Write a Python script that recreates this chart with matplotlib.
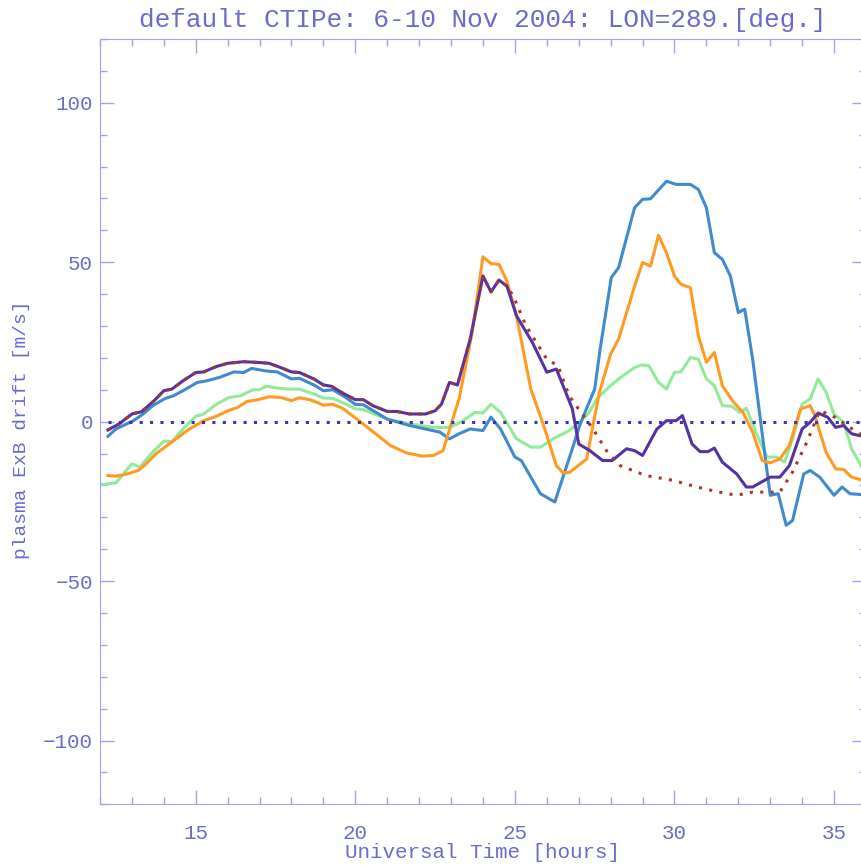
import matplotlib
matplotlib.use("Agg")
import matplotlib.pyplot as plt
from matplotlib.ticker import MultipleLocator

TITLE = "default CTIPe: 6-10 Nov 2004: LON=289.[deg.]"
XLABEL = "Universal Time [hours]"
YLABEL = "plasma ExB drift [m/s]"

# dark purple solid line
purple_t = [12.25, 12.6, 13.0, 13.3, 13.7, 14.0, 14.25, 14.6, 15.0, 15.25, 15.65, 16.0, 16.5,
            16.9, 17.3, 17.65, 18.0, 18.25, 18.7, 19.0, 19.25, 19.65, 20.0, 20.25, 20.55, 21.0,
            21.3, 21.7, 22.2, 22.5, 22.7, 22.95, 23.2, 23.6, 24.0, 24.25, 24.5, 24.75, 25.05,
            25.55, 26.0, 26.3, 26.8, 27.0, 27.35, 27.75, 28.05, 28.5, 28.75, 29.0, 29.45, 29.75,
            30.05, 30.25, 30.55, 30.8, 31.05, 31.25, 31.5, 31.95, 32.25, 32.45, 33.0, 33.3, 33.6,
            34.0, 34.25, 34.5, 34.8, 35.05, 35.3, 35.55, 35.9]
purple_v = [-2.6, -0.7, 2.4, 3.1, 6.6, 9.7, 10.2, 12.8, 15.4, 15.6, 17.3, 18.3, 18.8,
            18.6, 18.3, 17.0, 15.6, 15.4, 13.4, 11.5, 11.1, 8.7, 6.9, 6.9, 5.0, 3.2,
            3.2, 2.4, 2.4, 3.4, 5.5, 12.3, 11.5, 25.9, 45.7, 40.7, 44.4, 42.5, 33.2,
            24.8, 15.5, 16.5, 4.0, -7.0, -9.1, -12.2, -12.2, -8.5, -9.1, -10.6, -2.3, 0.3,
            0.3, 1.9, -7.0, -9.4, -9.4, -8.3, -12.7, -16.4, -20.5, -20.5, -17.4, -17.4, -13.8,
            -2.3, -0.2, 2.7, 1.4, -1.8, -1.2, -3.8, -4.6]

# dark red dotted line
red_t = [12.25, 12.6, 13.0, 13.3, 13.7, 14.0, 14.25, 14.6, 15.0, 15.25, 15.65, 16.0, 16.5,
         16.9, 17.3, 17.65, 18.0, 18.25, 18.7, 19.0, 19.25, 19.65, 20.0, 20.25, 20.55, 21.0,
         21.3, 21.7, 22.2, 22.5, 22.7, 22.95, 23.2, 23.6, 24.0, 24.25, 24.5, 24.75, 24.95,
         25.35, 26.0, 26.35, 26.7, 27.1, 27.45, 27.7, 27.9, 28.3, 29.1, 29.95, 30.7, 31.4,
         31.95, 32.45, 33.3, 33.7, 34.15, 34.55, 34.95, 35.4, 35.9]
red_v = [-2.6, -0.7, 2.4, 3.1, 6.6, 9.7, 10.2, 12.8, 15.4, 15.6, 17.3, 18.3, 18.8,
         18.6, 18.3, 17.0, 15.6, 15.4, 13.4, 11.5, 11.1, 8.7, 6.9, 6.9, 5.0, 3.2,
         3.2, 2.4, 2.4, 3.4, 5.5, 12.3, 11.5, 25.9, 45.7, 40.7, 44.4, 42.5, 39.4,
         30.0, 19.6, 17.5, 8.1, 2.5, -2.3, -6.4, -9.6, -13.8, -16.9, -18.4, -20.5, -22.1,
         -23.1, -22.1, -22.1, -15.8, -6.4, 3.4, 1.9, -1.2, -4.4]

# steel blue solid line
blue_t = [12.25, 12.5, 13.05, 13.35, 13.65, 14.05, 14.3, 14.6, 15.05, 15.35, 15.75, 16.2, 16.5,
          16.75, 17.2, 17.55, 18.0, 18.25, 18.7, 19.0, 19.3, 19.7, 20.0, 20.25, 21.0, 21.7,
          22.65, 22.95, 23.25, 23.6, 24.0, 24.25, 24.55, 25.0, 25.2, 25.8, 26.25, 26.8, 27.03,
          27.24, 27.5, 27.67, 28.02, 28.25, 28.75, 29.0, 29.25, 29.75, 30.05, 30.5, 30.75, 31.0,
          31.25, 31.5, 31.75, 32.0, 32.2, 32.45, 32.85, 33.0, 33.25, 33.5, 33.7, 34.05, 34.25,
          34.55, 35.0, 35.25, 35.5, 35.9]
blue_v = [-4.6, -2.3, 0.3, 2.4, 5.0, 7.3, 8.1, 9.7, 12.3, 12.8, 13.9, 15.6, 15.4,
          16.7, 15.9, 15.6, 13.4, 13.6, 11.5, 9.7, 10.0, 7.6, 5.4, 5.3, 0.8, -1.2,
          -3.3, -5.4, -3.8, -2.3, -2.8, 1.4, -2.3, -11.1, -12.2, -22.6, -25.2, -8.5, -1.2,
          4.0, 10.2, 22.7, 45.2, 48.3, 67.1, 69.7, 69.9, 75.4, 74.4, 74.4, 72.8, 67.1,
          53.0, 50.9, 45.7, 34.2, 35.3, 19.6, -11.7, -23.1, -22.6, -32.5, -31.0, -16.4, -15.3,
          -17.4, -23.1, -20.5, -22.6, -22.9]

# orange solid line
orange_t = [12.25, 12.5, 12.85, 13.2, 13.45, 13.75, 14.1, 14.45, 14.8, 15.25, 15.65, 16.0, 16.3,
            16.6, 16.9, 17.3, 17.65, 18.0, 18.25, 18.6, 19.0, 19.3, 19.6, 20.05, 20.55, 21.1,
            21.6, 22.1, 22.45, 22.75, 23.1, 23.25, 23.65, 24.0, 24.25, 24.5, 24.75, 25.05, 25.5,
            25.9, 26.3, 26.5, 26.7, 27.25, 27.45, 27.65, 28.0, 28.25, 28.75, 29.0, 29.25, 29.5,
            29.75, 30.0, 30.2, 30.5, 30.75, 31.0, 31.25, 31.5, 31.85, 32.15, 32.45, 32.75, 33.0,
            33.3, 33.6, 33.95, 34.25, 34.4, 34.75, 35.05, 35.3, 35.55, 35.9]
orange_v = [-16.9, -17.1, -16.4, -15.3, -13.2, -10.1, -7.5, -4.9, -2.3, 0.3, 1.7, 3.4, 4.4,
            6.3, 6.8, 7.8, 7.6, 6.6, 7.5, 6.8, 5.2, 5.4, 4.2, 0.8, -3.1, -7.5,
            -9.8, -10.8, -10.6, -9.1, 2.4, 7.1, 27.4, 51.7, 49.6, 49.3, 44.1, 33.2, 10.2,
            -1.2, -13.8, -16.0, -16.0, -11.7, -1.0, 9.2, 21.2, 25.9, 42.5, 49.9, 48.8, 58.4,
            53.0, 45.7, 43.1, 42.0, 26.9, 18.6, 21.7, 11.3, 6.1, 2.9, -3.3, -12.2, -12.9,
            -11.7, -7.5, 4.0, 5.0, 1.9, -9.6, -14.8, -15.0, -17.4, -18.4]

# light green solid line
green_t = [12.0, 12.25, 12.5, 13.0, 13.25, 13.6, 14.0, 14.25, 14.6, 15.0, 15.25, 15.65, 16.05,
           16.4, 16.8, 17.0, 17.2, 17.65, 18.0, 18.25, 18.7, 19.0, 19.3, 19.7, 20.0, 20.25,
           21.0, 21.7, 22.45, 22.95, 23.3, 23.75, 24.0, 24.25, 24.55, 25.05, 25.5, 25.8, 26.2,
           26.7, 27.05, 27.3, 27.6, 28.0, 28.25, 28.75, 29.0, 29.2, 29.5, 29.75, 30.0, 30.2,
           30.5, 30.75, 31.0, 31.25, 31.5, 31.8, 32.05, 32.25, 32.55, 32.9, 33.2, 33.45, 33.7,
           34.0, 34.25, 34.5, 34.75, 35.0, 35.3, 35.55, 35.9]
green_v = [-19.8, -19.5, -19.2, -13.2, -14.3, -10.1, -6.1, -6.3, -2.3, 1.7, 2.4, 5.5, 7.6,
           8.1, 10.0, 10.0, 11.1, 10.4, 10.2, 10.2, 8.7, 7.4, 7.3, 5.5, 4.0, 3.8,
           0.8, -0.7, -1.8, -1.8, -0.2, 2.9, 2.7, 5.5, 2.9, -5.4, -8.0, -8.0, -5.4,
           -2.8, 0.0, 2.5, 7.5, 11.3, 13.4, 17.0, 17.8, 17.5, 12.3, 10.2, 15.5, 15.6,
           20.1, 19.6, 13.4, 11.3, 5.0, 4.8, 2.9, 4.2, -3.3, -11.1, -11.1, -12.7, -5.4,
           5.5, 7.1, 13.4, 9.2, 2.4, -0.2, -8.5, -14.8]

TEXT_COLOR = "#6b6bcc"
AXIS_COLOR = "#a4a4e4"

plt.rcParams["font.family"] = ["Liberation Mono", "DejaVu Sans Mono"]

fig = plt.figure(figsize=(8.62, 8.65), dpi=100)
ax = fig.add_axes([0.116, 0.0702, 0.8886, 0.8847])

ax.plot(green_t, green_v, color="#92ea9a", lw=2.2)
ax.plot(blue_t, blue_v, color="#418ad0", lw=2.2)
ax.plot(orange_t, orange_v, color="#ff9b22", lw=2.2)
ax.plot(purple_t, purple_v, color="#5533a6", lw=2.2)
ax.plot(red_t, red_v, color="#a8362c", lw=2.2, ls=(0, (1, 2.4)))
ax.axhline(0, xmin=0.01, color="#3535b5", lw=2.2, ls=(0, (1, 2.4)))

ax.set_xlim(12, 36)
ax.set_ylim(-120, 120)
ax.xaxis.set_major_locator(MultipleLocator(5))
ax.xaxis.set_minor_locator(MultipleLocator(1))
ax.yaxis.set_major_locator(MultipleLocator(50))
ax.yaxis.set_minor_locator(MultipleLocator(10))

ax.tick_params(which="both", direction="in", top=True, right=True,
               color=AXIS_COLOR, labelcolor=TEXT_COLOR, labelsize=15)
ax.tick_params(which="major", length=10, width=1)
ax.tick_params(which="minor", length=5, width=1)
ax.tick_params(axis="x", pad=14)
ax.tick_params(axis="y", pad=5)
for spine in ax.spines.values():
    spine.set_color(AXIS_COLOR)

fig.text(483 / 862, 1 - 20 / 865, TITLE, ha="center", va="center",
         fontsize=18.8, color=TEXT_COLOR)
fig.text(483 / 862, 1 - 853 / 865, XLABEL, ha="center", va="center",
         fontsize=15, color=TEXT_COLOR)
fig.text(22 / 862, 1 - 430 / 865, YLABEL, ha="center", va="center", rotation=90,
         fontsize=14, color=TEXT_COLOR)

fig.savefig("out.png", dpi=100)
